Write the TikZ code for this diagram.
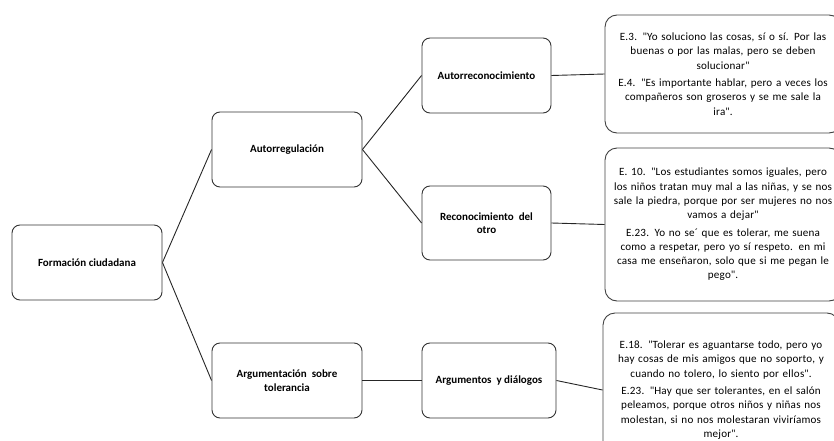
\documentclass[tikz,border=0pt]{standalone}
\usepackage{fontspec}
\setmainfont{Carlito}
\newfontfamily\quotefont{Carlito}[LetterSpace=1.8]
\newcommand{\qq}{\textquotedbl}
\begin{document}
\begin{tikzpicture}[x=1pt,y=-1pt,
  lbl/.style={draw=black!80, line width=0.9pt, rounded corners=8pt, align=center,
    font=\fontsize{11}{13.5}\selectfont\bfseries, inner sep=0pt},
  quote/.style={draw=black!75, line width=0.9pt, rounded corners=12pt, align=center,
    text width=236, font=\quotefont\fontsize{11.1}{14.3}\selectfont, inner sep=0pt},
  conn/.style={draw=black!85, line width=0.9pt}]
\useasboundingbox (0,0) rectangle (834,441);
\clip (0,0) rectangle (834,441);

\node[lbl, minimum width=150, minimum height=75] (fc) at (87,262.5) {Formación ciudadana};
\node[lbl, minimum width=150, minimum height=75] (ar) at (287,149.5) {Autorregulación};
\node[lbl, minimum width=150, minimum height=75] (at) at (287,380.5) {Argumentación\ \ sobre\\tolerancia};
\node[lbl, minimum width=129, minimum height=75] (ac) at (486.5,75.5) {Autorreconocimiento};
\node[lbl, minimum width=129, minimum height=74] (ro) at (486.5,223) {Reconocimiento\ \ del\\otro};
\node[lbl, minimum width=134, minimum height=75] (ad) at (489,380.5) {Argumentos\ \ y diálogos};

\node[quote, minimum height=118] (q1) at (723,74) {%
E.3. \qq Yo soluciono las cosas, sí o sí. Por las\\
buenas o por las malas, pero se deben\\
solucionar\qq\\[3pt]
E.4. \qq Es importante hablar, pero a veces los\\
compañeros son groseros y se me sale la\\
ira\qq.};

\node[quote, minimum height=153] (q2) at (723,224.5) {%
E. 10. \qq Los estudiantes somos iguales, pero\\
los niños tratan muy mal a las niñas, y se nos\\
sale la piedra, porque por ser mujeres no nos\\
vamos a dejar\qq\\[3pt]
E.23. Yo no se´ que es tolerar, me suena\\
como a respetar, pero yo sí respeto. en mi\\
casa me enseñaron, solo que si me pegan le\\
pego\qq.};

\node[quote, minimum height=154] (q3) at (721,390) {%
E.18. \qq Tolerar es aguantarse todo, pero yo\\
hay cosas de mis amigos que no soporto, y\\
cuando no tolero, lo siento por ellos\qq.\\[3pt]
E.23. \qq Hay que ser tolerantes, en el salón\\
peleamos, porque otros niños y niñas nos\\
molestan, si no nos molestaran viviríamos\\
mejor\qq.};

\draw[conn] (fc.east) -- (ar.west);
\draw[conn] (fc.east) -- (at.west);
\draw[conn] (ar.east) -- (ac.west);
\draw[conn] (ar.east) -- (ro.west);
\draw[conn] (at.east) -- (ad.west);
\draw[conn] (ac.east) -- (q1.west);
\draw[conn] (ro.east) -- (q2.west);
\draw[conn] (ad.east) -- (q3.west);
\end{tikzpicture}
\end{document}
